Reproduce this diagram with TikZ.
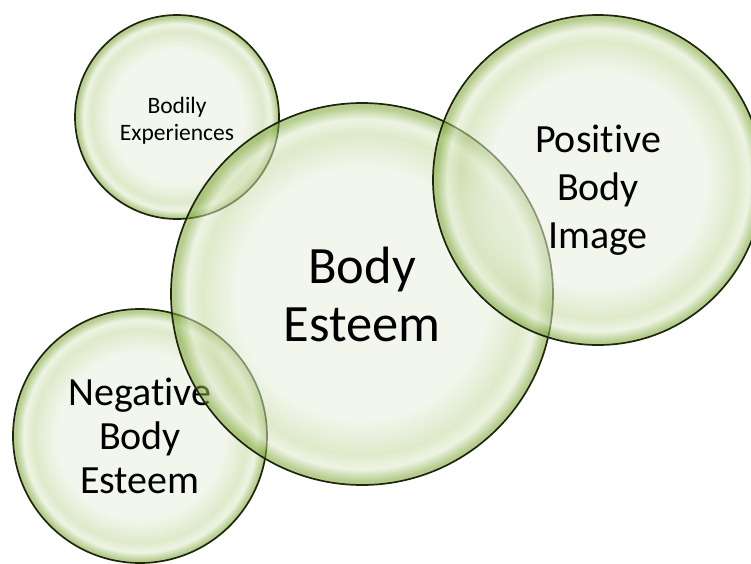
\documentclass[tikz,border=0pt]{standalone}
\usepackage{fontspec}
\setmainfont{Carlito}[Ligatures={NoCommon,NoContextual}]
\usepackage{tikz}
\definecolor{bubcore}{RGB}{231,239,220}
\definecolor{bubmid}{RGB}{196,216,160}
\definecolor{bubhi}{RGB}{222,235,204}
\definecolor{bubrim}{RGB}{122,164,50}
\definecolor{bubline}{RGB}{30,38,12}
\pgfdeclareradialshading{bubshade}{\pgfpoint{0bp}{0bp}}{color(0bp)=(bubcore); color(16.5bp)=(bubcore); color(21bp)=(bubmid); color(22.9bp)=(bubhi); color(24.5bp)=(bubrim); color(25bp)=(bubrim); color(50bp)=(bubrim)}

\begin{document}
\begin{tikzpicture}[
    x=1pt, y=-1pt,
    bub/.style={circle, draw=bubline, line width=1.7pt, shading=bubshade, fill opacity=0.55, draw opacity=1, text opacity=1, inner sep=0pt, outer sep=0pt, align=center, text=black}
]
\useasboundingbox (0,0) rectangle (751,563);

\node[bub, minimum size=254pt, font=\fontsize{40}{44}\selectfont] (neg) at (140,436) {Negative\\Body\\Esteem};
\node[bub, minimum size=204pt, font=\fontsize{23.5}{27}\selectfont] (exp) at (177,117) {\rule{0pt}{23pt}Bodily\\Experiences};
\node[bub, minimum size=382pt, font=\fontsize{52.5}{58}\selectfont] (core) at (362,294) {Body\\Esteem};
\node[bub, minimum size=330pt, font=\fontsize{40}{48}\selectfont] (pos) at (598,180) {\rule{0pt}{48pt}Positive\\Body\\Image};
\end{tikzpicture}
\end{document}
